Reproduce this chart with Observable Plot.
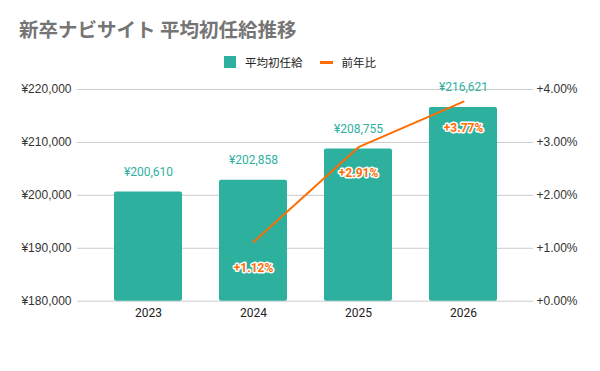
<!DOCTYPE html>
<html><head><meta charset="utf-8">
<script src="https://cdn.jsdelivr.net/npm/d3@7"></script>
<script src="https://cdn.jsdelivr.net/npm/@observablehq/plot@0.6"></script>
<style>
body{margin:0;background:#fff;font-family:Roboto,"Noto Sans CJK JP",sans-serif;}
#wrap{position:relative;width:600px;height:371px;overflow:hidden;background:#fff}
#title{position:absolute;left:19px;top:17px;font-size:19.5px;font-weight:bold;color:#757575;font-family:"Noto Sans CJK JP",Roboto,sans-serif;line-height:1.2;white-space:nowrap}
#legend{position:absolute;top:54px;left:224px;font-size:11.5px;color:#222;display:flex;align-items:center;height:16px;font-family:"Noto Sans CJK JP",Roboto,sans-serif}
#legend .sw{width:12px;height:12px;display:inline-block;margin-right:9px}
#legend .ln{width:13px;height:3px;display:inline-block;margin-right:9px}
#chart{position:absolute;left:0;top:75px}
</style>
</head><body>
<div id="wrap">
<div id="title">新卒ナビサイト 平均初任給推移</div>
<div id="legend"></div>
<div id="chart"></div>
</div>
<script>
const years = ["2023", "2024", "2025", "2026"];
const salaries = [200610, 202858, 208755, 216621];
const growth = [null, 1.12, 2.91, 3.77];
const yTicks = [180000, 190000, 200000, 210000, 220000];
const seriesNames = ["平均初任給", "前年比"];
const barColor = "#2eb09f";
const lineColor = "#ff6d01";

const legend = document.getElementById("legend");
legend.innerHTML =
  `<span class="sw" style="background:${barColor}"></span><span style="margin-right:17px">${seriesNames[0]}</span>` +
  `<span class="ln" style="background:${lineColor}"></span><span>${seriesNames[1]}</span>`;

const data = years.map((y, i) => ({year: y, salary: salaries[i], growth: growth[i]}));
const lineData = data.filter(d => d.growth != null);
const pctToY = p => 180000 + p * 10000;
const fmt = d3.format(",");

const chart = Plot.plot({
  width: 600,
  height: 296,
  marginTop: 14,
  marginBottom: 70.3,
  marginLeft: 77,
  marginRight: 67,
  style: {fontFamily: "Roboto, sans-serif", fontSize: "11px", color: "#333", background: "transparent"},
  x: {type: "band", domain: years, paddingInner: 0.354, paddingOuter: 0.177, insetLeft: 18, insetRight: 17},
  y: {domain: [180000, 220000]},
  marks: [
    Plot.ruleY(yTicks, {stroke: "#cccccc", strokeWidth: 1}),
    Plot.axisY({ticks: yTicks, tickFormat: d => "¥" + fmt(d), tickSize: 0, tickPadding: 6, label: null, fill: "#333", fontSize: 12, fontFamily: "'Liberation Sans', Arial, sans-serif"}),
    Plot.axisY({anchor: "right", ticks: yTicks, tickFormat: d => "+" + ((d - 180000) / 10000).toFixed(2) + "%", tickSize: 0, tickPadding: 3, label: null, fill: "#333", fontSize: 12, fontFamily: "'Liberation Sans', Arial, sans-serif"}),
    Plot.barY(data, {x: "year", y1: 180000, y2: "salary", fill: barColor, rx: 2}),
    Plot.text(data, {x: "year", y: "salary", text: d => "¥" + fmt(d.salary), dy: -20, fill: barColor, fontSize: 12}),
    Plot.line(lineData, {x: "year", y: d => pctToY(d.growth), stroke: lineColor, strokeWidth: 2}),
    Plot.text(lineData, {x: "year", y: d => pctToY(d.growth), dy: 26, text: d => "+" + d.growth.toFixed(2) + "%", fill: lineColor, stroke: "white", strokeWidth: 3, fontWeight: "bold", fontSize: 12}),
    Plot.axisX({tickSize: 0, tickPadding: 7, label: null, fontSize: 12, fill: "#222"})
  ]
});
document.getElementById("chart").appendChild(chart);
</script>
</body></html>
